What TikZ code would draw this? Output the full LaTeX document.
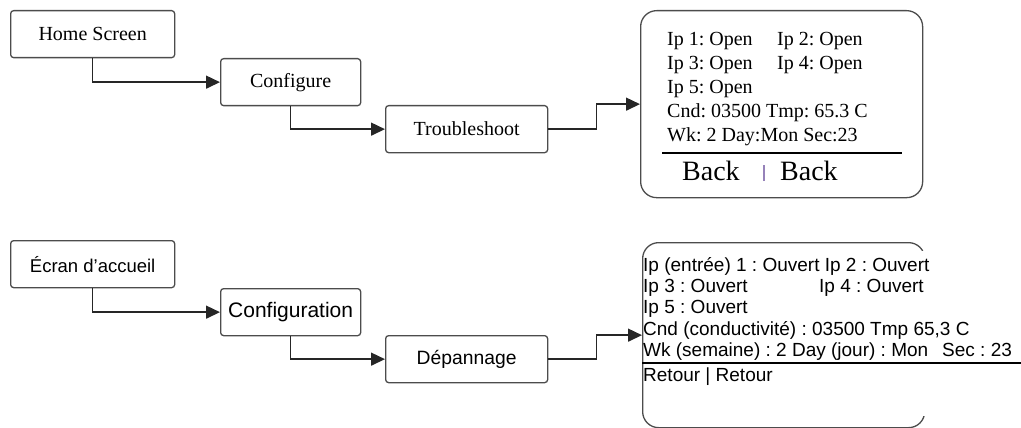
\documentclass[tikz,border=0pt]{standalone}
\usepackage{fontspec}
\setmainfont{Liberation Serif}
\newfontfamily\arialfont{Liberation Sans}
\usetikzlibrary{arrows.meta,positioning}
\frenchspacing

\definecolor{barpurple}{RGB}{150,130,185}

\tikzstyle{menubox} = [draw=black!70,line width=1.3pt,rounded corners=3pt,minimum width=164pt,minimum height=47pt,inner sep=0pt,anchor=north west]
\tikzstyle{screenbox} = [draw=black!70,line width=1.3pt,rounded corners=16pt,minimum width=282pt,minimum height=187pt,inner sep=0pt,anchor=north west]
\tikzstyle{menulink} = [draw=black!85,line width=1.5pt,-{Triangle[length=14pt,width=13pt]}]
\tikzstyle{serifnote} = [font=\fontsize{20}{24}\selectfont,anchor=north west,inner sep=0pt,align=left]
\tikzstyle{sansnote} = [font=\arialfont\fontsize{19}{21.3}\selectfont,anchor=north west,inner sep=0pt,align=left]

\begin{document}
\begin{tikzpicture}[x=1pt,y=-1pt]
	\useasboundingbox (0,0) rectangle (1021,428);
	% English menu
	\node (home) [menubox,font=\fontsize{20}{24}\selectfont] at (10,10) {Home Screen};
	\node (conf) [menubox,minimum width=140pt,font=\fontsize{20}{24}\selectfont] at (220,58) {Configure};
	\node (trbl) [menubox,minimum width=162pt,font=\fontsize{20}{24}\selectfont] at (385,105) {Troubleshoot};
	\node (scr) [screenbox] at (640,10) {};
	\node (scrtxt) [serifnote] at (667,32) {\makebox[110pt][l]{Ip 1: Open}Ip 2: Open\\
		\makebox[110pt][l]{Ip 3: Open}Ip 4: Open\\
		Ip 5: Open\\
		Cnd: 03500 Tmp: 65.3 C\\
		Wk: 2 Day:Mon Sec:23};
	\draw [line width=2.5pt] (662,153) -- (902,153);
	\node (back) [font=\fontsize{28}{30}\selectfont,anchor=base west,inner sep=0pt] at (682,180)
		{\makebox[81pt][l]{Back}\makebox[17pt][l]{\textcolor{barpurple}{\rule[-1pt]{1.5pt}{16pt}}}Back};
	\draw [menulink] (home.south) |- (conf.west);
	\draw [menulink] (conf.south) |- (trbl.west);
	\draw [menulink] (trbl.east) -- ++(48,0) |- (scr.west);
	% French menu
	\node (ecran) [menubox,font=\arialfont\fontsize{18.5}{20}\selectfont] at (10,240) {Écran d’accueil};
	\node (cfg) [menubox,minimum width=140pt,font=\arialfont\fontsize{21}{23}\selectfont] at (220,288) {Configuration};
	\node (dep) [menubox,minimum width=162pt,font=\arialfont\fontsize{19.3}{21}\selectfont] at (385,335) {Dépannage};
	\node (scr2) [screenbox,minimum height=185pt] at (642,242) {};
	\fill [white] (646,251) rectangle (1021,416);
	\node (scr2txt) [sansnote] at (643,257) {Ip (entrée) 1 : Ouvert Ip 2 : Ouvert\\
		\makebox[176pt][l]{Ip 3 : Ouvert}Ip 4 : Ouvert\\
		Ip 5 : Ouvert\\
		Cnd (conductivité) : 03500 Tmp 65,3 C\\
		Wk (semaine) : 2 Day (jour) : Mon\hspace{14pt}Sec : 23};
	\draw [line width=1.5pt] (642,363) -- (1021,363);
	\node (retour) [sansnote] at (643,368) {Retour | Retour};
	\draw [menulink] (ecran.south) |- (cfg.west);
	\draw [menulink] (cfg.south) |- (dep.west);
	\draw [menulink] (dep.east) -- ++(48,0) |- (scr2.west);
\end{tikzpicture}
\end{document}
